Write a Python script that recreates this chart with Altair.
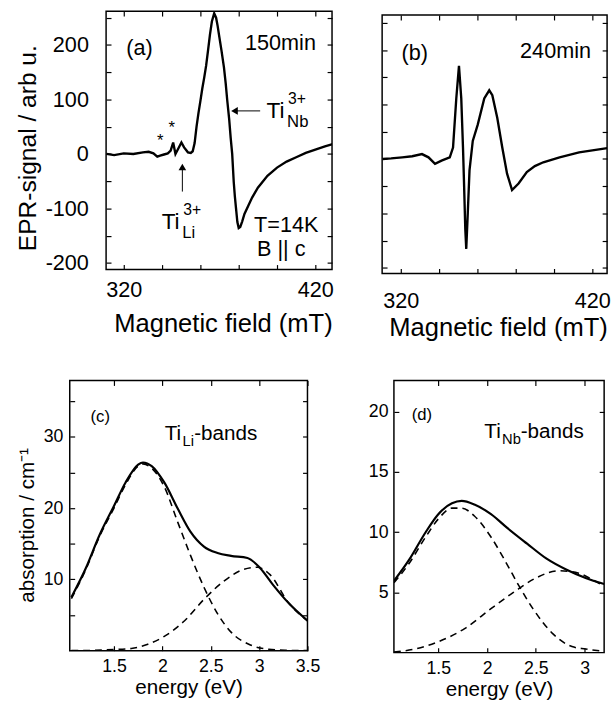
import altair as alt
import pandas as pd

FONT = "Liberation Sans"

# ---------------- (a) EPR spectrum, 150 min ----------------
a_field = [311, 315, 320, 325, 330, 333, 335.5, 337.5, 339, 341, 343, 344.5, 345.8, 347, 348.5,
           350.1, 351.5, 353.5, 355, 356, 357, 358, 359, 360, 361, 362, 363, 364, 365, 366,
           367.2, 368.2, 369, 369.7, 371, 372.3, 373.2, 374, 375, 375.8, 376.6, 377.4, 378, 378.6,
           379.3, 380, 380.8, 381.8, 383, 385, 387, 390, 395, 400, 405, 410, 415, 420, 425, 429]
a_signal = [0, -2, 1, 0, 3, 4, 1, -5, -3, -1, 1, 6, 21, 0, 10,
            21, 12, 3, 2, 5, 20, 50, 75, 97, 120, 140, 162, 190, 219, 243,
            258, 250, 235, 219, 190, 159, 130, 99, 65, 30, 0, -51, -78, -100,
            -125, -136, -134, -124, -110, -95, -80, -62, -40, -25, -14, -6, 2, 8, 14, 18]

# ---------------- (b) EPR spectrum, 240 min ----------------
b_field = [310.6, 315, 320.8, 326, 331.1, 334.5, 337.9, 341.3, 345.6, 347.3, 349, 350.4, 351.6, 352.5,
           353, 353.7, 354.2, 355, 355.9, 357.6, 360.2, 363.6, 366.2, 367.8, 370.4, 373, 375.5,
           378.1, 381.5, 385.8, 390, 394.4, 402.9, 413.1, 427.8]
b_signal = [0, 1, 3, 5, 9, 3, -9, -3, 3, 21, 111, 171, 111, 21,
            -39, -129, -165, -99, -21, 33, 63, 111, 126, 117, 75, 21, -27,
            -57, -45, -24, -13, -6, 3, 12, 20]

# ---------------- (c) Ti_Li absorption bands ----------------
c_energy = [1.06, 1.21, 1.35, 1.5, 1.62, 1.75, 1.8, 1.89, 2.02, 2.16, 2.29, 2.43, 2.57, 2.71, 2.88,
            3.01, 3.14, 3.31, 3.5]
c_total = [7.5, 11.6, 16.2, 20.3, 23.6, 26.1, 26.4, 25.9, 23.6, 19.9, 16.7, 14.6, 13.7, 13.3, 13.0,
           11.6, 9.3, 6.6, 4.2]
c_b1_energy = [1.06, 1.21, 1.35, 1.5, 1.62, 1.75, 1.8, 1.89, 2.02, 2.16, 2.29, 2.43, 2.57, 2.71,
               2.91, 3.1, 3.3, 3.5]
c_b1 = [7.3, 11.4, 16.0, 20.0, 23.3, 25.9, 26.2, 25.6, 23.0, 18.0, 13.4, 8.9, 5.2, 2.6,
        0.8, 0.2, 0.05, 0.0]
c_b2_energy = [1.06, 1.3, 1.5, 1.68, 1.85, 2.02, 2.23, 2.43, 2.64, 2.84, 2.98, 3.11, 3.31, 3.5]
c_b2 = [0.0, 0.05, 0.15, 0.3, 0.9, 2.0, 4.2, 7.2, 9.8, 11.4, 11.7, 10.7, 6.6, 4.2]

# ---------------- (d) Ti_Nb absorption bands ----------------
d_energy = [1.045, 1.2, 1.37, 1.5, 1.64, 1.74, 1.87, 2.04, 2.2, 2.41, 2.61, 2.81, 3.01, 3.2]
d_total = [5.95, 7.7, 10.0, 11.5, 12.4, 12.6, 12.3, 11.5, 10.4, 9.05, 7.8, 6.9, 6.2, 5.7]
d_b1_energy = [1.045, 1.2, 1.37, 1.5, 1.64, 1.74, 1.87, 2.04, 2.2, 2.33, 2.47, 2.67, 2.87, 3.01, 3.2]
d_b1 = [5.8, 7.4, 9.6, 11.1, 12.0, 12.0, 11.35, 9.6, 7.4, 5.5, 3.65, 1.6, 0.5, 0.3, 0.1]
d_b2_energy = [1.045, 1.26, 1.5, 1.77, 2.04, 2.27, 2.5, 2.74, 2.94, 3.07, 3.2]
d_b2 = [0.05, 0.3, 0.9, 2.0, 3.65, 5.0, 6.2, 6.8, 6.6, 6.1, 5.5]

# ---------------- annotations (data coordinates) ----------------
a_lbl_x = [328.2, 401.8, 404.8, 402.2]
a_lbl_y = [194.6, 203.6, -130.6, -174]
a_lbl = ["(a)", "150min", "T=14K", "B || c"]
a_star_x = [339, 345]
a_star_y = [24, 48]
a_ti_x = [394.5, 339.8]
a_ti_y = [66, -138]
a_ti_sub = ["Nb", "Li"]
a_arrow_x = [378.5, 350.6]
a_arrow_x2 = [391.2, 350.6]
a_arrow_y = [79, -27]
a_arrow_y2 = [79, -69]
a_head_x = [377.8, 350.6]
a_head_y = [79, -24]
a_head_shape = ["triangle-left", "triangle-up"]

b_lbl_x = [327.3, 400.8]
b_lbl_y = [194, 198]
b_lbl = ["(b)", "240min"]

c_lbl_x = [1.358]
c_lbl_y = [32.7]
c_ti_x = [2.025]
c_ti_y = [29.5]
d_lbl_x = [1.332]
d_lbl_y = [19.74]
d_ti_x = [1.972]
d_ti_y = [17.84]


def df(x, y, **extra):
    d = {"x": x, "y": y}
    d.update(extra)
    return pd.DataFrame(d)


def scale(lo, hi):
    return alt.Scale(domain=[lo, hi], nice=False, zero=False)


def main_axis(values, label_expr, label_size, label_pad, title=None, title_size=20, title_pad=5,
              show_labels=True, title_x=None, title_y=None):
    kw = dict(values=values, tickSize=5, offset=-5, domain=False, grid=False, tickColor="black",
              tickWidth=1.2, labelFont=FONT, labelFontSize=label_size, labelColor="black",
              labelPadding=label_pad, labelOverlap=False, labelFlush=False, minExtent=0)
    if show_labels:
        kw["labelExpr"] = label_expr
    else:
        kw["labels"] = False
    if title:
        kw.update(title=title, titleFont=FONT, titleFontSize=title_size, titleFontWeight="normal",
                  titleColor="black", titlePadding=title_pad)
        if title_x is not None:
            kw["titleX"] = title_x
        if title_y is not None:
            kw["titleY"] = title_y
    else:
        kw["title"] = None
    return alt.Axis(**kw)


def ghost_axis(values, orient):
    return alt.Axis(values=values, orient=orient, labels=False, tickSize=5, offset=-5, domain=False,
                    grid=False, tickColor="black", tickWidth=1.2, title=None, minExtent=0)


def panel(layers_fn, data, xs, ys, xax, yax, xvals, yvals, w, h):
    X = alt.X("x:Q", scale=xs, axis=xax)
    Y = alt.Y("y:Q", scale=ys, axis=yax)
    inner = alt.layer(*layers_fn(X, Y))
    ghost = alt.Chart(data).mark_point(opacity=0, size=1).encode(
        x=alt.X("x:Q", scale=xs, axis=ghost_axis(xvals, "top")),
        y=alt.Y("y:Q", scale=ys, axis=ghost_axis(yvals, "right")),
    )
    ch = alt.layer(inner, ghost).resolve_scale(x="independent", y="independent")
    return ch.properties(width=w, height=h)


def axis_only(data, ys, values, label_size, title, title_size, title_pad, title_y, w, h, shift):
    ax = alt.Axis(values=values, labelExpr="'' + datum.value", ticks=False, tickSize=0, offset=-shift,
                  domain=False, grid=False, labelFont=FONT, labelFontSize=label_size,
                  labelColor="black", labelPadding=0, labelOverlap=False, labelFlush=False,
                  title=title, titleFont=FONT, titleFontSize=title_size, titleFontWeight="normal",
                  titleColor="black", titlePadding=title_pad, titleY=title_y, minExtent=0)
    return alt.Chart(data).mark_point(opacity=0, size=1).encode(
        y=alt.Y("y:Q", scale=ys, axis=ax)
    ).properties(width=w, height=h, view=alt.ViewBackground(stroke="transparent"))


def spacer(w, h):
    return alt.Chart(pd.DataFrame({"x": [0]})).mark_point(opacity=0, size=1).properties(
        width=w, height=h, view=alt.ViewBackground(stroke="transparent"))


def line(data, X, Y, width=2.0, dash=None, interp="linear"):
    kw = dict(color="black", strokeWidth=width, clip=True, interpolate=interp)
    if dash:
        kw["strokeDash"] = dash
    return alt.Chart(data).mark_line(**kw).encode(x=X, y=Y, order="o:Q")


def texts(data, X, Y, size, align="center", baseline="middle", dx=0, dy=0, field="t"):
    return alt.Chart(data).mark_text(font=FONT, fontSize=size, color="black", align=align,
                                     baseline=baseline, dx=dx, dy=dy).encode(x=X, y=Y, text=f"{field}:N")


def with_order(d):
    d = d.copy()
    d["o"] = range(len(d))
    return d


# ---- data frames ----
dfa = with_order(df(a_field, a_signal))
dfb = with_order(df(b_field, b_signal))
dfc = with_order(df(c_energy, c_total))
dfc1 = with_order(df(c_b1_energy, c_b1))
dfc2 = with_order(df(c_b2_energy, c_b2))
dfd = with_order(df(d_energy, d_total))
dfd1 = with_order(df(d_b1_energy, d_b1))
dfd2 = with_order(df(d_b2_energy, d_b2))

EPR_XV = [320, 340, 360, 380, 400, 420]
EPR_YV = [-200, -150, -100, -50, 0, 50, 100, 150, 200, 250]
EPR_YLAB = [-200, -100, 0, 100, 200]
EPR_XL = "datum.value == 320 || datum.value == 420 ? '' + datum.value : ''"
EPR_YL = "datum.value % 100 == 0 ? '' + datum.value : ''"

A_YS = scale(-212, 262)


# ---- panel (a) ----
def layers_a(X, Y):
    arrows = df(a_arrow_x, a_arrow_y, x2=a_arrow_x2, y2=a_arrow_y2)
    heads = df(a_head_x, a_head_y, s=a_head_shape)
    ti = df(a_ti_x, a_ti_y, t=["Ti", "Ti"], sup=["3+", "3+"], sub=a_ti_sub)
    return [
        line(dfa, X, Y, width=2.4),
        texts(df(a_lbl_x, a_lbl_y, t=a_lbl), X, Y, 22),
        texts(df(a_star_x, a_star_y, t=["*", "*"]), X, Y, 17),
        alt.Chart(arrows).mark_rule(color="black", strokeWidth=1).encode(x=X, y=Y, x2="x2:Q", y2="y2:Q"),
        alt.Chart(heads).mark_point(filled=True, color="black", opacity=1, size=60).encode(
            x=X, y=Y, shape=alt.Shape("s:N", scale=None)),
        texts(ti, X, Y, 23, align="left", baseline="alphabetic"),
        texts(ti, X, Y, 16, align="left", baseline="alphabetic", dx=22, dy=-14, field="sup"),
        texts(ti, X, Y, 17, align="left", baseline="alphabetic", dx=21, dy=9, field="sub"),
    ]


pa = panel(layers_a, dfa, scale(310.8, 428.7), A_YS,
           main_axis(EPR_XV, EPR_XL, 22, 10, "Magnetic field (mT)", 26, 11, title_x=119),
           main_axis(EPR_YV, EPR_YL, 22, 16, show_labels=False),
           EPR_XV, EPR_YV, 230, 263)

# y-axis labels and title of panel (a), drawn beside it so that panel (a) sits further right
pa_axis = axis_only(dfa, A_YS, EPR_YLAB, 22, "EPR-signal / arb u.", 25, 5, 139, 34, 263, 19)


# ---- panel (b) ----
def layers_b(X, Y):
    return [
        line(dfb, X, Y, width=2.4),
        texts(df(b_lbl_x, b_lbl_y, t=b_lbl), X, Y, 22),
    ]


pb = panel(layers_b, dfb, scale(310.3, 427.7), scale(-210, 264),
           main_axis(EPR_XV, EPR_XL, 22, 18, "Magnetic field (mT)", 26, 3, title_x=118),
           main_axis(EPR_YV, EPR_YL, 22, 10, show_labels=False),
           EPR_XV, EPR_YV, 229, 263)

# ---- panel (c) ----
C_XV = [1.5, 2, 2.5, 3, 3.5]
C_YV = [5, 10, 15, 20, 25, 30, 35]


def layers_c(X, Y):
    ti = df(c_ti_x, c_ti_y, t=["Ti"], sub=["Li"], rest=["-bands"])
    return [
        line(dfc1, X, Y, width=1.6, dash=[7, 5], interp="monotone"),
        line(dfc2, X, Y, width=1.6, dash=[7, 5], interp="monotone"),
        line(dfc, X, Y, width=2.2, interp="monotone"),
        texts(df(c_lbl_x, c_lbl_y, t=["(c)"]), X, Y, 17),
        texts(ti, X, Y, 21, align="left", baseline="alphabetic"),
        texts(ti, X, Y, 15, align="left", baseline="alphabetic", dx=18, dy=6, field="sub"),
        texts(ti, X, Y, 21, align="left", baseline="alphabetic", dx=30, field="rest"),
    ]


pc = panel(layers_c, dfc, scale(1.043, 3.5), scale(0, 37.9),
           main_axis(C_XV, "'' + datum.value", 18, 7, "energy (eV)", 21, 2),
           main_axis(C_YV, "datum.value % 10 == 0 ? '' + datum.value : ''", 18, 7,
                     "absorption / cm\u207b\u00b9", 21, 6, title_y=147),
           C_XV, C_YV, 242, 275)

# ---- panel (d) ----
D_XV = [1.5, 2, 2.5, 3]
D_YV = [5, 10, 15, 20]


def layers_d(X, Y):
    ti = df(d_ti_x, d_ti_y, t=["Ti"], sub=["Nb"], rest=["-bands"])
    return [
        line(dfd1, X, Y, width=1.6, dash=[7, 5], interp="monotone"),
        line(dfd2, X, Y, width=1.6, dash=[7, 5], interp="monotone"),
        line(dfd, X, Y, width=2.2, interp="monotone"),
        texts(df(d_lbl_x, d_lbl_y, t=["(d)"]), X, Y, 17),
        texts(ti, X, Y, 21, align="left", baseline="alphabetic"),
        texts(ti, X, Y, 15, align="left", baseline="alphabetic", dx=18, dy=6, field="sub"),
        texts(ti, X, Y, 21, align="left", baseline="alphabetic", dx=37, field="rest"),
    ]


pd_ = panel(layers_d, dfd, scale(1.045, 3.2), scale(0, 22.6),
            main_axis(D_XV, "'' + datum.value", 18, 7, "energy (eV)", 21, 2),
            main_axis(D_YV, "'' + datum.value", 18, 6),
            D_XV, D_YV, 214, 277)

top = alt.hconcat(alt.hconcat(pa_axis, pa, spacing=0),
                  alt.vconcat(spacer(1, 1), pb, spacing=0), spacing=46)
bottom = alt.hconcat(pc, pd_, spacing=47)

chart = alt.vconcat(top, bottom, spacing=38).properties(
    padding={"left": 15, "top": 3, "right": 0, "bottom": 0},
    background="white",
).configure_view(stroke="black", strokeWidth=1.5)

chart.save("out.html", embed_options={"renderer": "svg", "actions": False})
